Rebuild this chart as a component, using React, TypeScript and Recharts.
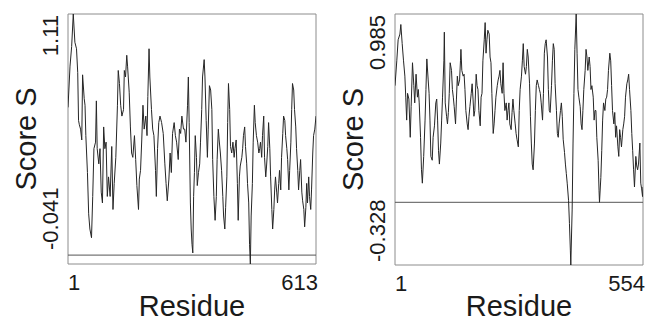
import { LineChart, Line, XAxis, YAxis, ReferenceLine, ReferenceArea } from 'recharts';

// left panel: 613 residues
const leftResidue = [
  1, 6, 10, 14, 18, 22, 25, 27, 29, 32,
  35, 37, 41, 43, 45, 49, 52, 55, 59, 62,
  65, 69, 71, 73, 77, 80, 83, 86, 89, 92,
  95, 98, 101, 105, 109, 112, 115, 119, 123, 125,
  128, 131, 134, 138, 140, 143, 146, 148, 152, 155,
  158, 161, 165, 168, 171, 175, 177, 180, 183, 186,
  189, 193, 196, 198, 201, 203, 207, 210, 213, 217,
  219, 222, 225, 228, 232, 236, 240, 243, 246, 250,
  253, 256, 259, 263, 266, 269, 273, 276, 279, 282,
  286, 289, 292, 296, 298, 300, 303, 305, 307, 309,
  311, 313, 315, 318, 320, 323, 326, 328, 331, 333,
  337, 339, 342, 345, 347, 350, 353, 356, 358, 361,
  364, 367, 369, 372, 374, 377, 380, 383, 385, 388,
  390, 393, 395, 397, 400, 402, 405, 408, 411, 413,
  416, 419, 421, 424, 426, 430, 432, 434, 437, 439,
  442, 444, 447, 449, 451, 453, 456, 458, 461, 463,
  466, 469, 472, 474, 476, 479, 481, 484, 486, 489,
  491, 494, 496, 499, 501, 504, 506, 509, 511, 513,
  516, 518, 521, 523, 526, 528, 531, 533, 536, 538,
  541, 543, 546, 548, 551, 553, 555, 558, 560, 563,
  565, 568, 570, 573, 575, 578, 580, 583, 585, 588,
  590, 592, 595, 597, 600, 602, 605, 607, 610, 613,
];
const leftScore = [
  0.68, 0.87, 0.96, 1.11, 0.98, 0.95, 0.84, 0.62, 0.6, 0.58,
  0.53, 0.83, 0.72, 0.69, 0.55, 0.38, 0.19, 0.12, 0.08, 0.27,
  0.49, 0.52, 0.71, 0.49, 0.42, 0.49, 0.29, 0.24, 0.59, 0.49,
  0.52, 0.27, 0.36, 0.27, 0.5, 0.21, 0.33, 0.45, 0.69, 0.85,
  0.79, 0.69, 0.64, 0.67, 0.85, 0.82, 0.92, 0.87, 0.75, 0.59,
  0.47, 0.45, 0.55, 0.44, 0.32, 0.21, 0.35, 0.39, 0.53, 0.69,
  0.58, 0.64, 0.55, 0.73, 0.95, 0.82, 0.67, 0.58, 0.55, 0.39,
  0.27, 0.49, 0.61, 0.64, 0.61, 0.56, 0.42, 0.33, 0.25, 0.35,
  0.47, 0.38, 0.56, 0.61, 0.55, 0.52, 0.44, 0.58, 0.56, 0.64,
  0.58, 0.58, 0.52, 0.69, 0.82, 0.61, 0.24, 0.12, 0.05, 0.01,
  0.27, 0.38, 0.55, 0.45, 0.32, 0.38, 0.42, 0.52, 0.67, 0.82,
  0.9, 0.82, 0.62, 0.45, 0.58, 0.78, 0.76, 0.67, 0.44, 0.27,
  0.16, 0.27, 0.44, 0.58, 0.53, 0.47, 0.39, 0.27, 0.18, 0.12,
  0.22, 0.36, 0.61, 0.79, 0.67, 0.5, 0.47, 0.52, 0.45, 0.49,
  0.53, 0.33, 0.16, 0.36, 0.41, 0.45, 0.49, 0.55, 0.59, 0.5,
  0.42, 0.33, 0.24, 0.05, -0.041, 0.18, 0.33, 0.52, 0.69, 0.61,
  0.55, 0.52, 0.47, 0.49, 0.52, 0.45, 0.55, 0.64, 0.45, 0.36,
  0.41, 0.5, 0.61, 0.49, 0.36, 0.21, 0.12, 0.21, 0.3, 0.36,
  0.29, 0.24, 0.33, 0.39, 0.3, 0.45, 0.56, 0.64, 0.62, 0.55,
  0.49, 0.44, 0.3, 0.39, 0.52, 0.67, 0.79, 0.76, 0.67, 0.59,
  0.49, 0.39, 0.3, 0.39, 0.44, 0.29, 0.25, 0.21, 0.13, 0.22,
  0.33, 0.24, 0.36, 0.27, 0.21, 0.3, 0.47, 0.55, 0.58, 0.64,
];

// right panel: 554 residues
const rightResidue = [
  1, 5, 8, 12, 14, 17, 20, 23, 25, 27,
  29, 32, 35, 37, 40, 43, 45, 48, 51, 53,
  55, 58, 60, 62, 65, 68, 70, 72, 75, 77,
  79, 81, 84, 86, 89, 92, 94, 96, 98, 100,
  103, 105, 107, 110, 111, 113, 116, 118, 120, 122,
  124, 127, 129, 131, 133, 136, 138, 140, 142, 145,
  147, 148, 150, 153, 155, 157, 159, 162, 164, 166,
  168, 171, 173, 175, 177, 179, 182, 184, 186, 188,
  191, 193, 195, 197, 200, 202, 204, 206, 208, 211,
  213, 215, 217, 220, 222, 224, 226, 229, 231, 233,
  235, 237, 240, 242, 244, 246, 249, 251, 253, 255,
  257, 260, 262, 264, 266, 269, 271, 273, 276, 278,
  280, 283, 285, 287, 289, 292, 294, 296, 298, 301,
  303, 305, 307, 309, 312, 314, 316, 318, 321, 323,
  325, 327, 330, 332, 334, 336, 338, 341, 343, 345,
  347, 350, 352, 354, 356, 358, 361, 363, 365, 367,
  370, 372, 374, 376, 379, 381, 383, 385, 388, 390,
  392, 393, 396, 398, 400, 402, 405, 407, 409, 411,
  414, 416, 418, 420, 422, 425, 427, 429, 431, 434,
  436, 438, 440, 443, 445, 447, 449, 451, 454, 456,
  457, 460, 462, 464, 466, 469, 471, 473, 475, 477,
  480, 482, 484, 486, 489, 491, 493, 495, 498, 500,
  502, 504, 506, 509, 511, 513, 515, 518, 520, 522,
  524, 527, 529, 531, 533, 535, 538, 540, 542, 544,
  547, 549, 551, 553, 554,
];
const rightScore = [
  0.61, 0.74, 0.85, 0.88, 0.93, 0.83, 0.74, 0.66, 0.55, 0.43,
  0.57, 0.54, 0.34, 0.5, 0.73, 0.61, 0.52, 0.67, 0.55, 0.59,
  0.52, 0.34, 0.17, 0.1, 0.24, 0.43, 0.59, 0.75, 0.64, 0.57,
  0.43, 0.24, 0.22, 0.34, 0.4, 0.52, 0.54, 0.43, 0.27, 0.2,
  0.31, 0.43, 0.55, 0.74, 0.89, 0.52, 0.45, 0.41, 0.47, 0.57,
  0.73, 0.69, 0.59, 0.55, 0.5, 0.41, 0.54, 0.66, 0.61, 0.64,
  0.74, 0.8, 0.69, 0.66, 0.67, 0.59, 0.48, 0.41, 0.38, 0.45,
  0.5, 0.57, 0.62, 0.54, 0.45, 0.48, 0.67, 0.61, 0.59, 0.48,
  0.4, 0.55, 0.57, 0.74, 0.85, 0.94, 0.78, 0.85, 0.9, 0.88,
  0.76, 0.73, 0.57, 0.36, 0.41, 0.48, 0.55, 0.61, 0.64, 0.66,
  0.69, 0.62, 0.57, 0.73, 0.57, 0.48, 0.52, 0.43, 0.48, 0.52,
  0.41, 0.38, 0.47, 0.54, 0.48, 0.41, 0.36, 0.33, 0.29, 0.48,
  0.59, 0.66, 0.74, 0.83, 0.71, 0.67, 0.71, 0.8, 0.76, 0.62,
  0.45, 0.31, 0.2, 0.17, 0.31, 0.48, 0.61, 0.64, 0.61, 0.59,
  0.57, 0.52, 0.43, 0.57, 0.78, 0.83, 0.85, 0.76, 0.59, 0.48,
  0.47, 0.61, 0.74, 0.83, 0.8, 0.62, 0.48, 0.36, 0.34, 0.41,
  0.48, 0.52, 0.45, 0.33, 0.26, 0.2, 0.15, 0.1, 0.01, -0.11,
  -0.25, -0.328, -0.04, 0.31, 0.57, 0.8, 0.985, 0.78, 0.59, 0.55,
  0.5, 0.41, 0.38, 0.48, 0.59, 0.69, 0.8, 0.76, 0.69, 0.76,
  0.71, 0.59, 0.61, 0.55, 0.43, 0.48, 0.48, 0.34, 0.22, 0.06,
  0.0, 0.13, 0.27, 0.43, 0.52, 0.48, 0.54, 0.55, 0.59, 0.69,
  0.78, 0.74, 0.61, 0.48, 0.41, 0.47, 0.34, 0.4, 0.29, 0.24,
  0.38, 0.34, 0.29, 0.38, 0.41, 0.45, 0.55, 0.62, 0.64, 0.67,
  0.59, 0.48, 0.36, 0.27, 0.17, 0.08, 0.24, 0.19, 0.17, 0.2,
  0.31, 0.1, 0.07, 0.03, 0.08,
];

const leftYTicks = [-0.041, 1.11];
const rightYTicks = [-0.328, 0.985];
const leftXTicks = [1, 613];
const rightXTicks = [1, 554];

const FONT = '"Liberation Sans", Arial, Helvetica, sans-serif';
const H = 321;
const Y_AXIS_W = 40;
const X_AXIS_H = 30;

interface PlotProps {
  residue: number[];
  score: number[];
  xTicks: number[];
  yTicks: number[];
  width: number;
  margin: { top: number; right: number; bottom: number; left: number };
  lowLabelShift: number;
}

function ScorePlot({ residue, score, xTicks, yTicks, width, margin, lowLabelShift }: PlotProps) {
  const data = residue.map((r, i) => ({ residue: r, score: score[i] }));
  const [yMin, yMax] = yTicks;
  const [xMin, xMax] = xTicks;
  const plotLeft = margin.left + Y_AXIS_W;
  const plotRight = width - margin.right;
  const plotTop = margin.top;
  const plotBottom = H - margin.bottom - X_AXIS_H;

  const yTick = (p: any) => {
    const bx = p.x - 10;
    const top = Math.abs(p.payload.value - yMax) < 1e-9;
    const by = top ? p.y + 1 : p.y - lowLabelShift;
    return (
      <text x={bx} y={by} transform={`rotate(-90 ${bx} ${by})`} textAnchor={top ? 'end' : 'start'}
        fontSize={22} fontFamily={FONT} fill="#1a1a1a">
        {p.payload.value}
      </text>
    );
  };

  const xTick = (p: any) => {
    const first = p.payload.value === xMin;
    return (
      <text x={first ? p.x : p.x + 2} y={p.y + 26} textAnchor={first ? 'start' : 'end'}
        fontSize={22} fontFamily={FONT} fill="#1a1a1a">
        {p.payload.value}
      </text>
    );
  };

  const xTitle = () => (
    <text x={(plotLeft + plotRight) / 2} y={316} textAnchor="middle" fontSize={29} fontFamily={FONT} fill="#1a1a1a">
      Residue
    </text>
  );

  const yTitle = () => {
    const bx = plotLeft - 32;
    const by = (plotTop + plotBottom) / 2;
    return (
      <text x={bx} y={by} transform={`rotate(-90 ${bx} ${by})`} textAnchor="middle" fontSize={29} fontFamily={FONT} fill="#1a1a1a">
        Score S
      </text>
    );
  };

  return (
    <LineChart width={width} height={H} data={data} margin={margin}>
      <XAxis type="number" dataKey="residue" domain={[xMin, xMax]} ticks={xTicks} interval={0}
        axisLine={false} tickLine={false} tickSize={0} tickMargin={0} height={X_AXIS_H}
        tick={xTick} label={xTitle} allowDataOverflow />
      <YAxis type="number" domain={[yMin, yMax]} ticks={yTicks} interval={0}
        axisLine={false} tickLine={false} tickSize={0} tickMargin={0} width={Y_AXIS_W}
        tick={yTick} label={yTitle} allowDataOverflow />
      <ReferenceArea x1={xMin} x2={xMax} y1={yMin} y2={yMax} fill="none" stroke="#8c8c8c" strokeWidth={1} ifOverflow="visible" />
      <ReferenceLine y={0} stroke="#555" strokeWidth={1} />
      <Line type="linear" dataKey="score" stroke="#262626" strokeWidth={1} dot={false} isAnimationActive={false} />
    </LineChart>
  );
}

export default function App() {
  return (
    <div style={{ position: 'absolute', left: 0, top: 0, width: 649, height: H, background: '#fff' }}>
      <div style={{ position: 'absolute', left: 0, top: 0 }}>
        <ScorePlot residue={leftResidue} score={leftScore} xTicks={leftXTicks} yTicks={leftYTicks}
          width={325} margin={{ top: 14, right: 9, bottom: 27, left: 28 }} lowLabelShift={14} />
      </div>
      <div style={{ position: 'absolute', left: 325, top: 0 }}>
        <ScorePlot residue={rightResidue} score={rightScore} xTicks={rightXTicks} yTicks={rightYTicks}
          width={324} margin={{ top: 14, right: 6, bottom: 26, left: 30 }} lowLabelShift={3} />
      </div>
    </div>
  );
}
